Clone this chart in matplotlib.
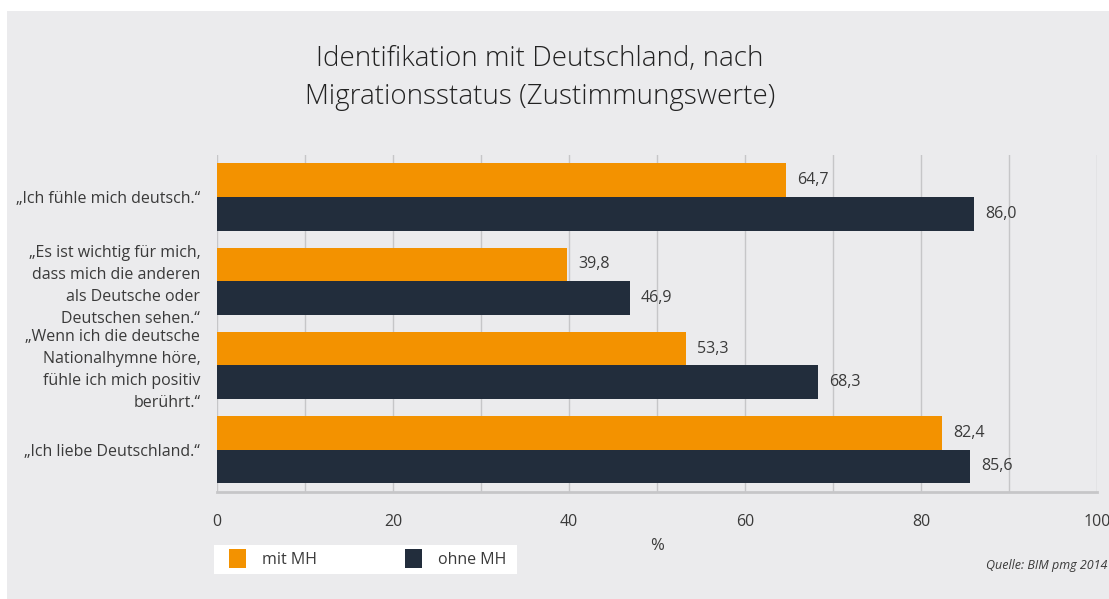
import matplotlib
matplotlib.use("Agg")
import matplotlib.pyplot as plt
from matplotlib.patches import Rectangle
import numpy as np

categories = [
    "„Ich fühle mich deutsch.“",
    "„Es ist wichtig für mich,\ndass mich die anderen\nals Deutsche oder\nDeutschen sehen.“",
    "„Wenn ich die deutsche\nNationalhymne höre,\nfühle ich mich positiv\nberührt.“",
    "„Ich liebe Deutschland.“",
]
mit_mh = [64.7, 39.8, 53.3, 82.4]
ohne_mh = [86.0, 46.9, 68.3, 85.6]
series_names = ["mit MH", "ohne MH"]
xticks = [0, 20, 40, 60, 80, 100]

ORANGE = "#F39200"
DARK = "#222D3C"
BG = "#EBEBED"
GRID = "#C6C6C8"
TXT = "#3A3A3A"

plt.rcParams['font.family'] = ['Open Sans', 'DejaVu Sans']

W, H = 1109, 599
fig = plt.figure(figsize=(W / 100, H / 100), dpi=100, facecolor="white")
fig.patches.append(Rectangle((7 / W, 0), 1 - 7 / W, 1 - 11 / H, transform=fig.transFigure,
                             facecolor=BG, edgecolor="none", zorder=-10))

ax = fig.add_axes([217 / W, 1 - 491.7 / H, (1097 - 217) / W, (491.7 - 155) / H])
ax.set_zorder(1)
ax.patch.set_alpha(0)

y = np.arange(len(categories))
h = 0.4
b1 = ax.barh(y - h / 2, mit_mh, height=h, color=ORANGE, zorder=3)
b2 = ax.barh(y + h / 2, ohne_mh, height=h, color=DARK, zorder=3)

for bars, vals in ((b1, mit_mh), (b2, ohne_mh)):
    for bar, v in zip(bars, vals):
        ax.annotate(f"{v:.1f}".replace(".", ","),
                    xy=(bar.get_width(), bar.get_y() + bar.get_height() / 2),
                    xytext=(8, 0), textcoords="offset points",
                    ha="left", va="center", fontsize=11.5, color=TXT)

ax.set_xlim(0, 100)
ax.set_ylim(len(categories) - 0.5, -0.5)
ax.set_xticks(xticks)
ax.set_xticklabels([str(t) for t in xticks], fontsize=11.5, color=TXT)
ax.set_xticks(np.arange(0, 101, 10), minor=True)
ax.set_yticks(y)
ax.set_yticklabels(categories, fontsize=11.5, color=TXT, ha="right", linespacing=1.5)
ax.tick_params(axis="both", which="both", length=0)
ax.tick_params(axis="x", pad=16)
ax.tick_params(axis="y", pad=12)
ax.grid(axis="x", which="both", color=GRID, lw=1, zorder=0)
ax.set_axisbelow(True)
for s in ("top", "right", "left"):
    ax.spines[s].set_visible(False)
ax.spines["bottom"].set_color(GRID)
ax.spines["bottom"].set_linewidth(2)

fig.text(540 / W, 1 - 78 / H, "Identifikation mit Deutschland, nach\nMigrationsstatus (Zustimmungswerte)",
         ha="center", va="center", fontsize=20, fontweight="light", color="#222222", linespacing=1.45)

fig.text(657 / W, 1 - 546 / H, "%", ha="center", va="center", fontsize=12, color=TXT)

# legend box
fig.patches.append(Rectangle((214 / W, 1 - 574 / H), (517 - 214) / W, 29 / H, transform=fig.transFigure,
                             facecolor="white", edgecolor="none", zorder=1))
for x0, col, name in ((229, ORANGE, series_names[0]), (405, DARK, series_names[1])):
    fig.patches.append(Rectangle((x0 / W, 1 - 568 / H), 17 / W, 19 / H, transform=fig.transFigure,
                                 facecolor=col, edgecolor="none", zorder=2))
    fig.text((x0 + 33) / W, 1 - 560 / H, name, ha="left", va="center", fontsize=11.5, color=TXT, zorder=3)

fig.text(1107 / W, 1 - 566 / H, "Quelle: BIM pmg 2014", ha="right", va="center", fontsize=9,
         style="italic", color=TXT)

fig.savefig("out.png", dpi=100, facecolor="white")
